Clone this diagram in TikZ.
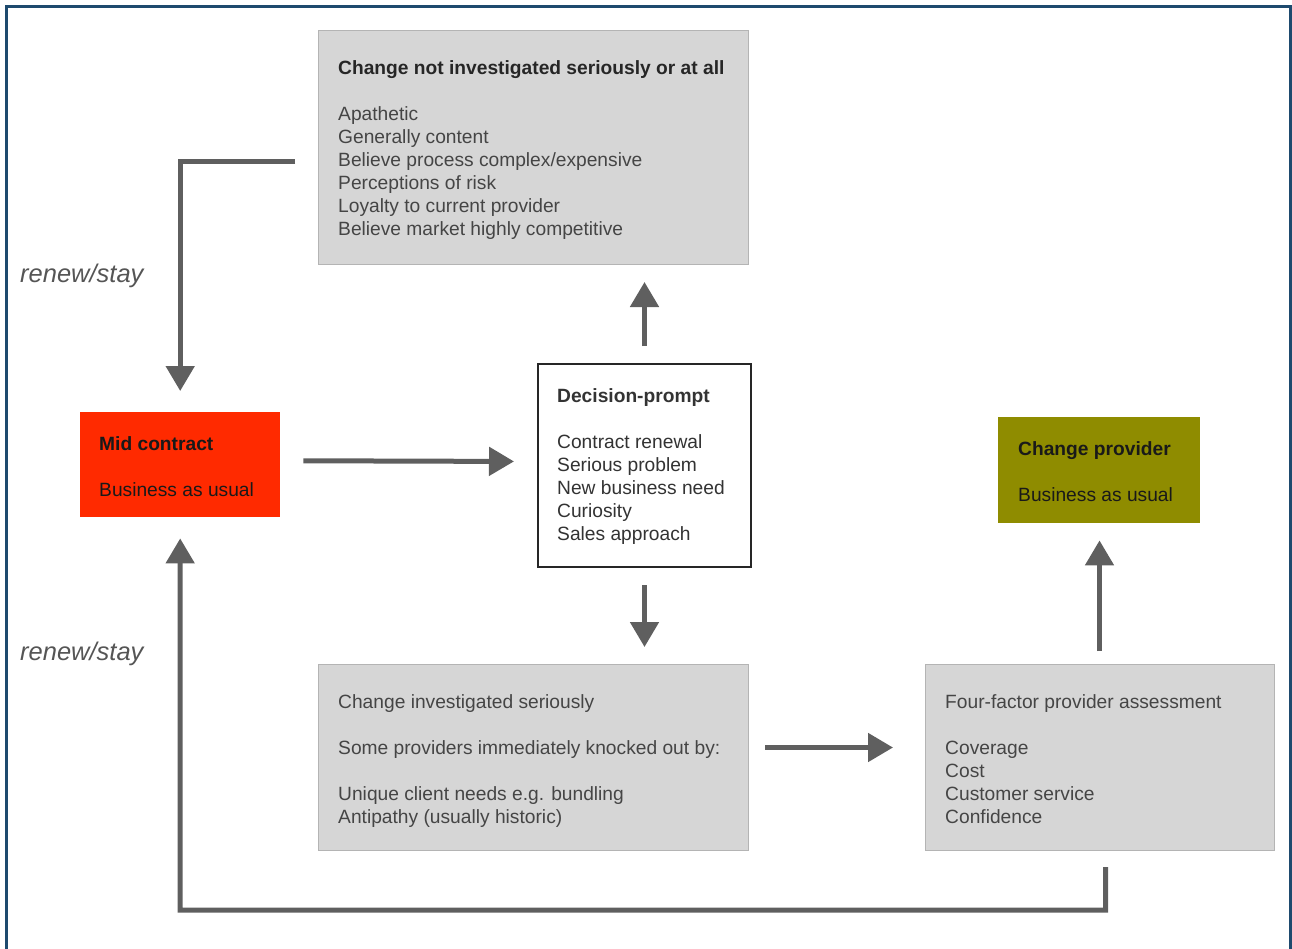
\documentclass[tikz,border=0pt]{standalone}
\usepackage{fontspec}
\setmainfont{Liberation Sans}
\usetikzlibrary{arrows.meta}
\definecolor{framecol}{HTML}{1E4A6E}
\definecolor{boxgray}{HTML}{D6D6D6}
\definecolor{boxedge}{HTML}{B4B4B4}
\definecolor{midred}{HTML}{FF2A00}
\definecolor{oliveb}{HTML}{8F8C00}
\definecolor{arrgray}{HTML}{5F5F5F}
\definecolor{txtgray}{HTML}{454545}
\definecolor{txtdark}{HTML}{333333}
\definecolor{lblgray}{HTML}{555555}
\begin{document}
\begin{tikzpicture}[x=1pt,y=-1pt,
  graybox/.style={draw=boxedge,line width=1pt,fill=boxgray,inner sep=0pt,anchor=north west},
  colbox/.style={inner sep=0pt,anchor=north west},
  whitebox/.style={draw=black!85,line width=2pt,fill=white,inner sep=0pt,anchor=north west},
  txt/.style={anchor=north west,inner sep=0pt,align=left,font=\fontsize{19.2}{23}\selectfont},
  arr/.style={draw=arrgray,line width=5pt,-{Triangle[width=28pt,length=25pt]}},
  lbl/.style={anchor=west,inner sep=0pt,text=lblgray,font=\fontsize{25.5}{29}\selectfont\itshape}]
\useasboundingbox (0,0) rectangle (1292,948);
\draw[framecol,line width=3pt] (6,960) -- (6,6) -- (1290,6) -- (1290,960);

% boxes
\node[graybox,minimum width=430pt,minimum height=234pt] (top) at (318,30) {};
\node[whitebox,minimum width=213pt,minimum height=203pt] (dec) at (537,363) {};
\node[colbox,fill=midred,minimum width=200pt,minimum height=105pt] (mid) at (80,412) {};
\node[colbox,fill=oliveb,minimum width=202pt,minimum height=106pt] (cp) at (998,417) {};
\node[graybox,minimum width=430pt,minimum height=186pt] (bm) at (318,664) {};
\node[graybox,minimum width=349pt,minimum height=186pt] (br) at (925,664) {};

% texts
\node[txt,text=txtgray] (topT) at (338,60) {\textcolor{black!85}{\textbf{Change not investigated seriously or at all}}\\[23pt]
Apathetic\\ Generally content\\ Believe process complex/expensive\\ Perceptions of risk\\ Loyalty to current provider\\ Believe market highly competitive};
\node[txt,text=txtdark] (decT) at (557,388) {\textbf{Decision-prompt}\\[23pt]
Contract renewal\\ Serious problem\\ New business need\\ Curiosity\\ Sales approach};
\node[txt,text=black!90] (midT) at (99,436) {\textbf{Mid contract}\\[23pt]Business as usual};
\node[txt,text=black!90] (cpT) at (1018,441) {\textbf{Change provider}\\[23pt]Business as usual};
\node[txt,text=txtgray] (bmT) at (338,694) {Change investigated seriously\\[23pt]
Some providers immediately knocked out by:\\[23pt]
Unique client needs e.g. bundling\\ Antipathy (usually historic)};
\node[txt,text=txtgray] (brT) at (945,694) {Four-factor provider assessment\\[23pt]
Coverage\\ Cost\\ Customer service\\ Confidence};

\node[lbl] (rs1) at (20,276) {renew/stay};
\node[lbl] (rs2) at (20,654) {renew/stay};

% connectors
\coordinate (loopB) at (180,910);
\draw[arr,shorten <=23pt,shorten >=23pt] ([yshift=4pt]mid.east) -- ([yshift=4pt]dec.west);
\draw[arr,shorten <=17pt,shorten >=17pt] (dec.north) -- (dec.north |- top.south);
\draw[arr,shorten <=17pt,shorten >=17pt] (dec.south) -- (dec.south |- bm.north);
\draw[arr,shorten <=16pt,shorten >=32pt] ([yshift=10pt]bm.east) -- ([yshift=10pt]br.west);
\draw[arr,shorten <=13pt,shorten >=17pt] ([xshift=-0.5pt]br.north) -- ([xshift=-0.5pt]br.north |- cp.south);
\draw[arr,shorten <=23pt,shorten >=21pt] ([yshift=-14pt]top.west) -| (mid.north);
\draw[arr,shorten <=16pt,shorten >=21pt] ([xshift=5.5pt]br.south) |- (loopB) -- (mid.south);
\end{tikzpicture}
\end{document}
